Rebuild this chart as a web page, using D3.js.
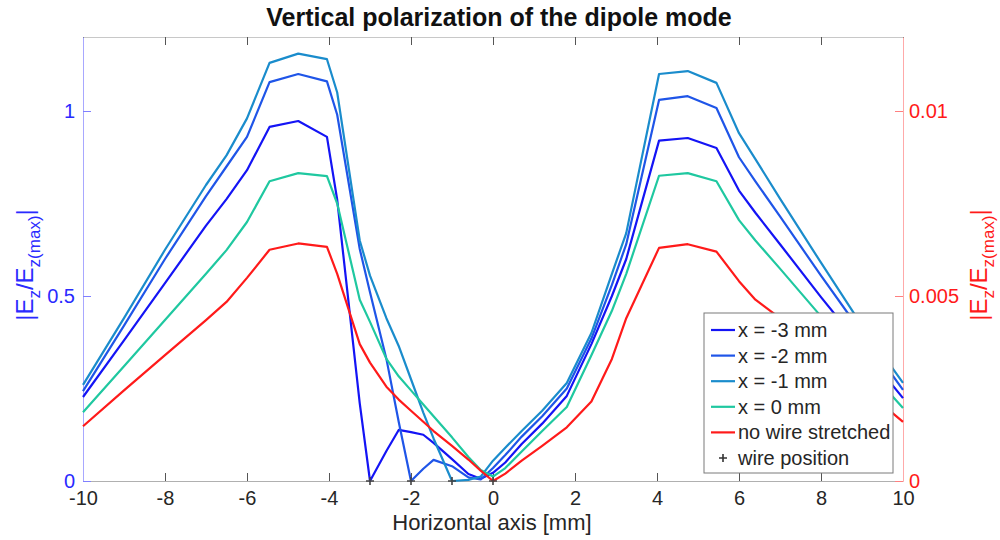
<!DOCTYPE html>
<html lang="en">
<head>
<meta charset="UTF-8" />
<title>Vertical polarization of the dipole mode</title>
<script src="https://cdn.jsdelivr.net/npm/d3@7"></script>
<style>
  body { margin: 0; background: #fff; }
  svg { font-family: "Liberation Sans", Arial, sans-serif; }
</style>
</head>
<body>
<svg width="1000" height="540"></svg>
<script>
// horizontal positions [mm] shared by all curves
const xPos = [-10, -9, -8, -7, -6.5, -6, -5.45, -4.75, -4.05, -3.8, -3.25, -3, -2.6, -2.3, -2, -1.7, -1.45, -1, -0.6, -0.3,
  0, 0.3, 0.7, 1.2, 1.8, 2.4, 2.9, 3.25, 4.05, 4.75, 5.45, 6, 6.4, 7, 8, 9, 10];

// |Ez/Ez(max)| , left axis
const wireM3 = [0.227, 0.38, 0.535, 0.69, 0.762, 0.84, 0.957, 0.973, 0.93, 0.76, 0.21, 0, 0.081, 0.138, 0.132, 0.125, 0.103, 0.059, 0.019, 0.006,
  0.022, 0.05, 0.10, 0.155, 0.23, 0.37, 0.50, 0.60, 0.92, 0.927, 0.90, 0.785, 0.725, 0.64, 0.497, 0.36, 0.224];
const wireM2 = [0.243, 0.42, 0.60, 0.77, 0.85, 0.93, 1.078, 1.10, 1.08, 0.99, 0.627, 0.51, 0.33, 0.16, 0, 0.033, 0.057, 0.04, 0.01, 0.004,
  0.035, 0.07, 0.12, 0.175, 0.25, 0.385, 0.53, 0.64, 1.03, 1.04, 1.008, 0.875, 0.81, 0.715, 0.555, 0.40, 0.246];
const wireM1 = [0.26, 0.44, 0.625, 0.80, 0.88, 0.98, 1.13, 1.155, 1.14, 1.05, 0.65, 0.555, 0.44, 0.365, 0.275, 0.185, 0.115, 0, 0.003, 0.012,
  0.055, 0.09, 0.135, 0.19, 0.265, 0.40, 0.56, 0.67, 1.10, 1.108, 1.076, 0.94, 0.87, 0.763, 0.59, 0.42, 0.265];
const wire0 = [0.186, 0.31, 0.435, 0.56, 0.624, 0.70, 0.81, 0.832, 0.824, 0.75, 0.49, 0.43, 0.33, 0.283, 0.245, 0.207, 0.175, 0.118, 0.065, 0.03,
  0.012, 0.035, 0.08, 0.135, 0.20, 0.34, 0.46, 0.56, 0.825, 0.832, 0.81, 0.705, 0.65, 0.574, 0.445, 0.32, 0.197];
// no wire, right axis
const noWire = [0.00148, 0.00245, 0.0034, 0.00435, 0.00484, 0.00549, 0.00625, 0.00642, 0.00633, 0.0056, 0.0037, 0.0032, 0.00255, 0.0022, 0.0019, 0.0016, 0.00135, 0.00095, 0.00058, 0.00028,
  0, 0.0002, 0.00055, 0.00095, 0.00145, 0.00215, 0.0033, 0.0044, 0.0063, 0.0064, 0.0062, 0.0054, 0.0049, 0.0044, 0.00345, 0.00253, 0.0016];

const wirePositions = [-3, -2, -1, 0];

const seriesNames = ["x = -3 mm", "x = -2 mm", "x = -1 mm", "x = 0 mm", "no wire stretched"];
const seriesColors = ["#1414f5", "#1f55e8", "#1a8ccc", "#1fc8a0", "#ff1a1a"];
const xTicks = [-10, -8, -6, -4, -2, 0, 2, 4, 6, 8, 10];
const leftTicks = [0, 0.5, 1];
const rightTicks = [0, 0.005, 0.01];

const svg = d3.select("svg");
const mLeft = 83, mRight = 903, mTop = 37, mBottom = 481;

const x = d3.scaleLinear().domain([-10, 10]).range([mLeft, mRight]);
const yL = d3.scaleLinear().domain([0, 1.2]).range([mBottom, mTop]);
const yR = d3.scaleLinear().domain([0, 0.012]).range([mBottom, mTop]);

// axes
const gx = svg.append("g").attr("transform", `translate(0,${mBottom})`)
  .call(d3.axisBottom(x).tickValues(xTicks).tickSizeInner(-8).tickSizeOuter(0).tickPadding(10).tickFormat(d => String(d)));
gx.selectAll("text").attr("fill", "#262626").style("font-size", "20px");
gx.selectAll("line").attr("stroke", "#555");
gx.select(".domain").attr("stroke", "#b0b0b0");

const gt = svg.append("g").attr("transform", `translate(0,${mTop})`)
  .call(d3.axisTop(x).tickValues(xTicks).tickSizeInner(-8).tickSizeOuter(0).tickFormat(""));
gt.selectAll("line").attr("stroke", "#555");
gt.select(".domain").attr("stroke", "#c8c8c8");

const gl = svg.append("g").attr("transform", `translate(${mLeft},0)`)
  .call(d3.axisLeft(yL).tickValues(leftTicks).tickSizeInner(-8).tickSizeOuter(0).tickPadding(8).tickFormat(d => String(d)));
gl.selectAll("text").attr("fill", "#2a2aff").style("font-size", "20px");
gl.selectAll("line").attr("stroke", "#8080ff");
gl.select(".domain").attr("stroke", "#a8a8ff");

const gr = svg.append("g").attr("transform", `translate(${mRight},0)`)
  .call(d3.axisRight(yR).tickValues(rightTicks).tickSizeInner(-8).tickSizeOuter(0).tickPadding(6).tickFormat(d => String(d)));
gr.selectAll("text").attr("fill", "#ff1a1a").style("font-size", "20px");
gr.selectAll("line").attr("stroke", "#ff8080");
gr.select(".domain").attr("stroke", "#ffaaaa");

// curves
const allSeries = [wireM3, wireM2, wireM1, wire0, noWire];
const lineL = d3.line().x((d, i) => x(xPos[i])).y(d => yL(d));
const lineR = d3.line().x((d, i) => x(xPos[i])).y(d => yR(d));

svg.append("g").selectAll("path").data(allSeries).join("path")
  .attr("d", (d, i) => i === 4 ? lineR(d) : lineL(d))
  .attr("fill", "none")
  .attr("stroke", (d, i) => seriesColors[i])
  .attr("stroke-width", 2.2)
  .attr("stroke-linejoin", "round");

// wire position markers
svg.append("g").selectAll("path").data(wirePositions).join("path")
  .attr("transform", d => `translate(${x(d)},${yL(0)})`)
  .attr("d", "M-4,0H4M0,-4V4")
  .attr("stroke", "#444").attr("stroke-width", 1.6);

// legend
const lg = svg.append("g").attr("transform", "translate(704,313)");
lg.append("rect").attr("width", 189).attr("height", 160)
  .attr("fill", "#fff").attr("stroke", "#7a7a7a").attr("stroke-width", 1);
const rowY = i => 17 + i * 25.6;
seriesNames.forEach((name, i) => {
  lg.append("line").attr("x1", 7).attr("x2", 31).attr("y1", rowY(i)).attr("y2", rowY(i))
    .attr("stroke", seriesColors[i]).attr("stroke-width", 2.2);
  lg.append("text").attr("x", 34).attr("y", rowY(i)).attr("dy", "0.35em")
    .style("font-size", "20px").attr("fill", "#262626").text(name);
});
lg.append("path").attr("transform", `translate(19,${rowY(5)})`)
  .attr("d", "M-4,0H4M0,-4V4").attr("stroke", "#333").attr("stroke-width", 1.6);
lg.append("text").attr("x", 34).attr("y", rowY(5)).attr("dy", "0.35em")
  .style("font-size", "20px").attr("fill", "#262626").text("wire position");

// title and labels
svg.append("text").attr("x", 499).attr("y", 26).attr("text-anchor", "middle")
  .style("font-size", "25px").style("font-weight", "bold").attr("fill", "#111")
  .text("Vertical polarization of the dipole mode");

svg.append("text").attr("x", 492).attr("y", 530).attr("text-anchor", "middle")
  .style("font-size", "22px").attr("fill", "#262626").text("Horizontal axis [mm]");

function yLabel(cx, cy, color) {
  const t = svg.append("text").attr("transform", `translate(${cx},${cy}) rotate(-90)`)
    .attr("text-anchor", "middle").style("font-size", "24px").attr("fill", color);
  t.append("tspan").text("|E");
  t.append("tspan").attr("dy", 7).style("font-size", "17px").text("z");
  t.append("tspan").attr("dy", -7).text("/E");
  t.append("tspan").attr("dy", 7).style("font-size", "17px").text("z(max)");
  t.append("tspan").attr("dy", -7).text("|");
}
yLabel(33, 265, "#2a2aff");
yLabel(987, 265, "#ff1a1a");
</script>
</body>
</html>
